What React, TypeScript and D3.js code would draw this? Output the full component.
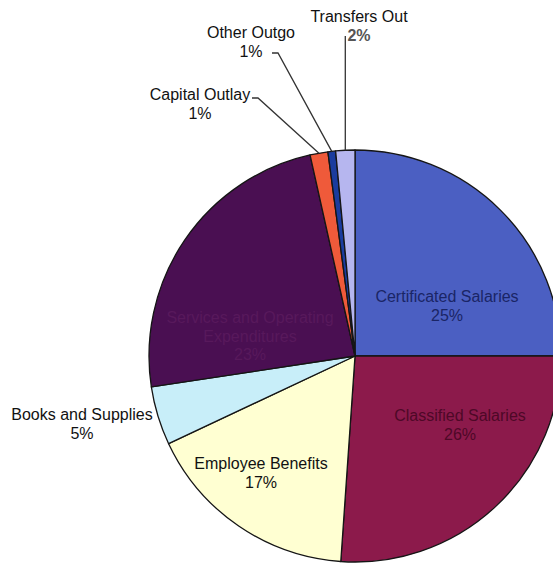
import React from "react";
import * as d3 from "d3";

const categories = [
  "Certificated Salaries",
  "Classified Salaries",
  "Employee Benefits",
  "Books and Supplies",
  "Services and Operating Expenditures",
  "Capital Outlay",
  "Other Outgo",
  "Transfers Out",
];
const values = [25.0, 26.1, 16.9, 4.6, 23.9, 1.4, 0.6, 1.5];
const percentLabels = ["25%", "26%", "17%", "5%", "23%", "1%", "1%", "2%"];
const colors = ["#4b5fc2", "#8c1a4b", "#ffffd2", "#c8eef9", "#4a0f52", "#ef5a3a", "#1b3c9e", "#b6b6ef"];

const W = 553;
const H = 565;
const cx = 355;
const cy = 356;
const R = 206;

type Lab = { lines: string[]; x: number; y: number; color: string; pctColor?: string; leader?: { hx: number; hy: number; side: number } };
const labels: Lab[] = [
  { lines: ["Certificated Salaries"], x: 447, y: 302, color: "#1a2566" },
  { lines: ["Classified Salaries"], x: 460, y: 421, color: "#4e0827" },
  { lines: ["Employee Benefits"], x: 261, y: 469, color: "#111" },
  { lines: ["Books and Supplies"], x: 82, y: 420, color: "#111" },
  { lines: ["Services and Operating", "Expenditures"], x: 250, y: 323, color: "#58195c" },
  { lines: ["Capital Outlay"], x: 200, y: 100, color: "#111", leader: { hx: 252, hy: 98, side: 1 } },
  { lines: ["Other Outgo"], x: 251, y: 38, color: "#111", leader: { hx: 272, hy: 53, side: 1 } },
  { lines: ["Transfers Out"], x: 359, y: 22, color: "#111", pctColor: "#555", leader: { hx: 346, hy: 36, side: 0 } },
];

export default function App() {
  const pie = d3
    .pie<number>()
    .sort(null)
    .value((d) => d)
    .startAngle(0)
    .endAngle(2 * Math.PI);
  const arcs = pie(values);
  const arc = d3.arc<d3.PieArcDatum<number>>().innerRadius(0).outerRadius(R);

  return (
    <svg width={W} height={H} style={{ position: "absolute", left: 0, top: 0, background: "#fff" }}>
      <g transform={`translate(${cx},${cy})`}>
        {arcs.map((a, i) => (
          <path key={i} d={arc(a) || ""} fill={colors[i]} stroke="#151515" strokeWidth={1.3} strokeLinejoin="round" />
        ))}
      </g>
      {labels.map((l, i) => {
        const a = arcs[i];
        const mid = (a.startAngle + a.endAngle) / 2;
        const ex = cx + R * Math.sin(mid);
        const ey = cy - R * Math.cos(mid);
        const lh = 18.5;
        return (
          <g key={i} fontFamily="Liberation Sans, Arial, sans-serif" fontSize={16} textAnchor="middle">
            {l.lines.map((t, j) => (
              <text key={j} x={l.x} y={l.y + j * lh} fill={l.color}>
                {t}
              </text>
            ))}
            <text x={l.x} y={l.y + l.lines.length * lh} fill={l.pctColor || l.color} fontWeight={l.pctColor ? "bold" : "normal"}>
              {percentLabels[i]}
            </text>
            {l.leader && (
              <polyline
                points={
                  l.leader.side
                    ? `${l.leader.hx},${l.leader.hy} ${l.leader.hx + 6},${l.leader.hy} ${ex},${ey}`
                    : `${ex},${l.leader.hy} ${ex},${ey}`
                }
                fill="none"
                stroke="#333"
                strokeWidth={1.3}
              />
            )}
          </g>
        );
      })}
    </svg>
  );
}
